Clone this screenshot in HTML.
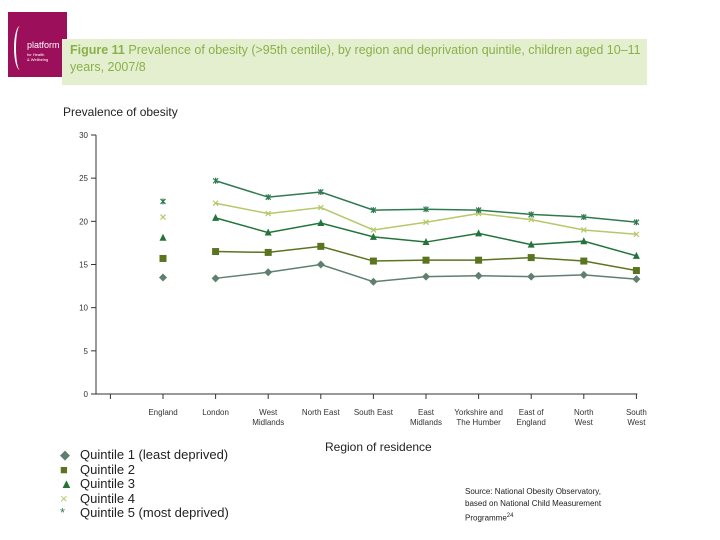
<!DOCTYPE html>
<html><head><meta charset="utf-8"><style>
body{margin:0;background:#fff;font-family:"Liberation Sans",sans-serif}
#wrap{position:relative;width:720px;height:540px;overflow:hidden}
</style></head><body>
<div id="wrap">
<div style="position:absolute;left:8px;top:12px;width:59px;height:65px;background:#9c0f5a;color:#fff;overflow:hidden">
<div style="position:absolute;left:19px;top:28px;font-size:9px">platform</div>
<div style="position:absolute;left:19px;top:40px;font-size:4px;line-height:5px">for Health<br>&amp; Wellbeing</div>
<div style="position:absolute;left:6px;top:14px;width:10px;height:44px;border-left:2px solid #fff;border-radius:50%"></div>
</div>
<div style="position:absolute;left:62px;top:39px;width:585px;height:46px;background:#e4efd0;color:#8ab04a;font-size:12.5px;line-height:17px;padding:3px 0 0 8px;box-sizing:border-box">
<b>Figure 11</b> Prevalence of obesity (&gt;95th centile), by region and deprivation quintile, children aged 10–11 years, 2007/8</div>
<div style="position:absolute;left:63px;top:105px;font-size:12px;color:#222">Prevalence of obesity</div>
<svg id="chart" width="720" height="540" style="position:absolute;left:0;top:0"></svg>
<div style="position:absolute;left:325px;top:440px;font-size:12px;color:#222">Region of residence</div>
<div style="position:absolute;left:60px;top:448px;font-size:13px;line-height:14.5px;color:#222">
<div><span style="color:#5f7f6f;display:inline-block;width:20px">◆</span>Quintile 1 (least deprived)</div>
<div><span style="color:#5a7420;display:inline-block;width:20px">■</span>Quintile 2</div>
<div><span style="color:#23743a;display:inline-block;width:20px">▲</span>Quintile 3</div>
<div><span style="color:#b5c86a;display:inline-block;width:20px">×</span>Quintile 4</div>
<div><span style="color:#2f7a50;display:inline-block;width:20px">*</span>Quintile 5 (most deprived)</div>
</div>
<div style="position:absolute;left:465px;top:486px;font-size:8px;line-height:12px;color:#222">Source: National Obesity Observatory,<br>based on National Child Measurement<br>Programme<sup style="font-size:6px">24</sup></div>
</div>
<script>
const categories=["England","London","West|Midlands","North East","South East","East|Midlands","Yorkshire and|The Humber","East of|England","North|West","South|West"];
const yTicks=[0,5,10,15,20,25,30];
const q1=[13.5,13.4,14.1,15.0,13.0,13.6,13.7,13.6,13.8,13.3];
const q2=[15.7,16.5,16.4,17.1,15.4,15.5,15.5,15.8,15.4,14.3];
const q3=[18.1,20.4,18.7,19.8,18.2,17.6,18.6,17.3,17.7,16.0];
const q4=[20.5,22.1,20.9,21.6,19.0,19.9,20.9,20.2,19.0,18.5];
const q5=[22.3,24.7,22.8,23.4,21.3,21.4,21.3,20.8,20.5,19.9];
const svg=document.getElementById('chart');const NS='http://www.w3.org/2000/svg';
function y(v){return 394-v*(259/30);}
function x(i){return 163+i*52.6;}
function mk(t,a,p){const e=document.createElementNS(NS,t);for(const k in a)e.setAttribute(k,a[k]);(p||svg).appendChild(e);return e;}
let e=mk('line',{x1:96,y1:y(0),x2:96,y2:y(30),stroke:'#333','stroke-width':1});

e=mk('line',{x1:96,y1:y(0),x2:x(9)+1,y2:y(0),stroke:'#333','stroke-width':1});

yTicks.forEach(v=>{mk('line',{x1:91,x2:96,y1:y(v),y2:y(v),stroke:'#333'});
const t=mk('text',{x:88,y:y(v)+3,'text-anchor':'end','font-size':8,fill:'#333','font-family':'Liberation Sans'});t.textContent=v;
});
for(let i=-1;i<categories.length;i++){const tx=x(i);mk('line',{x1:tx,x2:tx,y1:y(0),y2:y(0)+5,stroke:'#333'});}
categories.forEach((c,i)=>{c.split('|').forEach((l,j)=>{const t=mk('text',{x:x(i),y:y(0)+21+j*10,'text-anchor':'middle','font-size':8,fill:'#333','font-family':'Liberation Sans'});t.textContent=l;
});});
const series=[[q1,'#5f7f6f','d'],[q2,'#5a7420','s'],[q3,'#23743a','t'],[q4,'#b5c86a','x'],[q5,'#2f7a50','a']];
series.forEach(([d,c,m],si)=>{
const pts=d.slice(1).map((v,i)=>x(i+1)+','+y(v)).join(' ');
const pl=mk('polyline',{points:pts,fill:'none',stroke:c,'stroke-width':1.5});

d.forEach((v,i)=>{const cx=x(i),cy=y(v);let s;
if(m=='d')s=mk('polygon',{points:`${cx},${cy-4} ${cx+4},${cy} ${cx},${cy+4} ${cx-4},${cy}`,fill:c});
else if(m=='s')s=mk('rect',{x:cx-3.5,y:cy-3.5,width:7,height:7,fill:c});
else if(m=='t')s=mk('polygon',{points:`${cx},${cy-4} ${cx+3.5},${cy+3} ${cx-3.5},${cy+3}`,fill:c});
else{s=mk('g',{});mk('path',{d:`M${cx-2.5},${cy-2.5}L${cx+2.5},${cy+2.5}M${cx+2.5},${cy-2.5}L${cx-2.5},${cy+2.5}`+(m=='a'?`M${cx},${cy-3}L${cx},${cy+3}`:''),stroke:c,'stroke-width':1.2},s);}
});
});
</script>
</body></html>
